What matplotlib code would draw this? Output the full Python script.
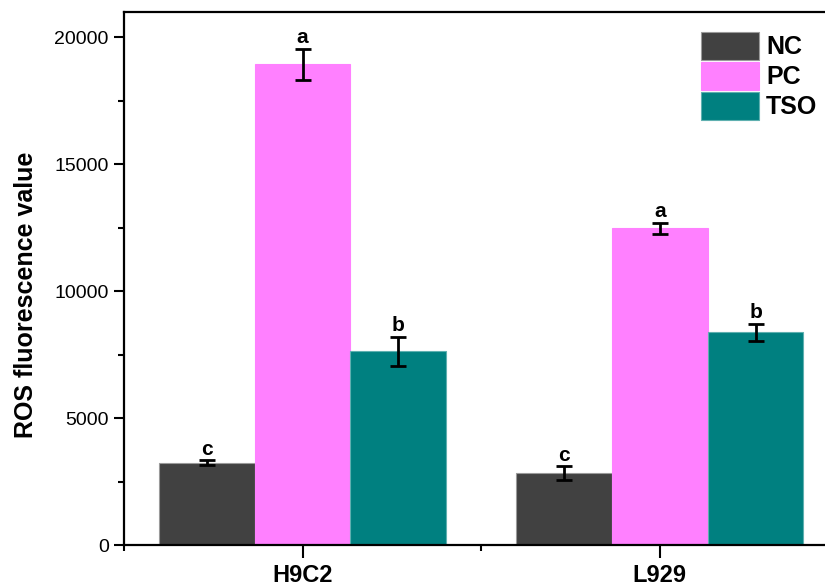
import matplotlib
matplotlib.use("Agg")
import matplotlib.pyplot as plt
import numpy as np
from matplotlib.ticker import MultipleLocator, FixedLocator

plt.rcParams['font.family'] = ['Liberation Sans', 'DejaVu Sans']

categories = ["H9C2", "L929"]
groups = ["NC", "PC", "TSO"]
values = {
    "NC": [3240, 2830],
    "PC": [18940, 12470],
    "TSO": [7640, 8380],
}
errors = {
    "NC": [100, 280],
    "PC": [610, 220],
    "TSO": [570, 330],
}
letters = {
    "NC": ["c", "c"],
    "PC": ["a", "a"],
    "TSO": ["b", "b"],
}
colors = {"NC": "#414141", "PC": "#FF80FF", "TSO": "#008080"}
edges = {"NC": "#9a9a9a", "PC": "#FF80FF", "TSO": "#5fb0b0"}

fig = plt.figure(figsize=(8.25, 5.84), dpi=100)
ax = fig.add_axes([124/825, 39/584, (838.5-124)/825, (545-12)/584])

x = np.arange(1, len(categories)+1)
w = 0.268
for i, g in enumerate(groups):
    xs = x + (i-1)*w
    ax.bar(xs, values[g], width=w, color=colors[g], edgecolor=edges[g], linewidth=0.8, label=g, zorder=2)
    ax.errorbar(xs, values[g], yerr=errors[g], fmt='none', ecolor='black', elinewidth=2, capsize=5.5, capthick=2, zorder=3)
    for xi, v, e, t in zip(xs, values[g], errors[g], letters[g]):
        ax.annotate(t, (xi, v+e), xytext=(0, 4), textcoords='offset points', ha='center', va='baseline',
                    fontsize=15, fontweight='bold')

ax.set_xlim(0.5, 2.5)
ax.set_ylim(0, 21000)
ax.set_xticks(x)
ax.set_xticklabels(categories, fontsize=17, fontweight='bold')
ax.xaxis.set_minor_locator(FixedLocator([0.5, 1.5, 2.5]))
ax.yaxis.set_major_locator(MultipleLocator(5000))
ax.yaxis.set_minor_locator(MultipleLocator(2500))
ax.tick_params(axis='y', which='major', direction='out', length=7, width=1.5, labelsize=14, pad=4)
ax.tick_params(axis='y', which='minor', direction='out', length=4, width=1.5)
ax.tick_params(axis='x', which='major', direction='out', length=9, width=1.5, pad=5)
ax.tick_params(axis='x', which='minor', direction='out', length=4, width=1.5)
for s in ax.spines.values():
    s.set_linewidth(1.6)

ax.set_ylabel("ROS fluorescence value", fontsize=18, fontweight='bold')
ax.yaxis.set_label_coords(-0.121, (584-295-39)/533)

leg = ax.legend(loc='upper left', bbox_to_anchor=((701-124)/714.5, (584-32-39)/533), frameon=False,
                fontsize=18, handlelength=2.3, handleheight=1.35, handletextpad=0.3,
                labelspacing=0.08, borderaxespad=0, borderpad=0)
for t in leg.get_texts():
    t.set_fontweight('bold')

fig.savefig("out.png", dpi=100)
